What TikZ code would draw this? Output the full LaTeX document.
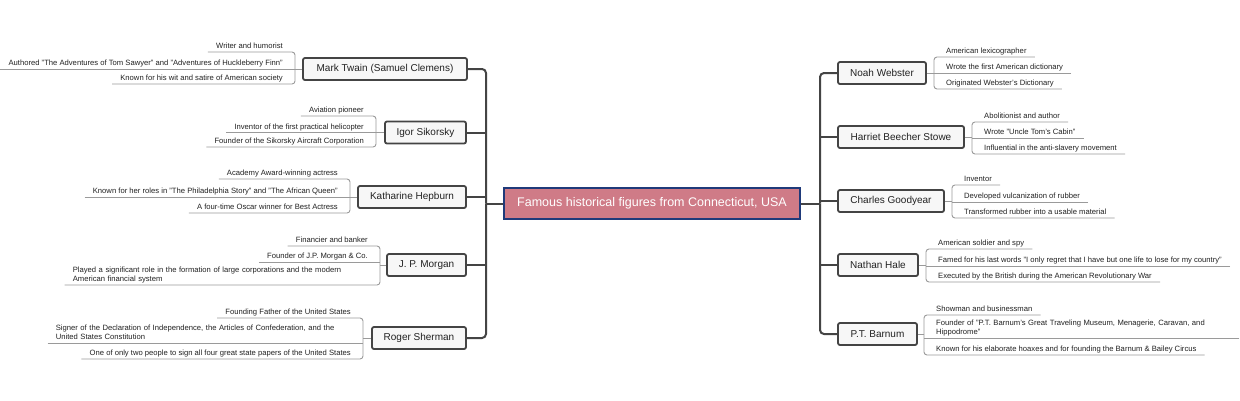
\documentclass[tikz,border=0pt]{standalone}
\usepackage{fontspec}
\setmainfont{Liberation Sans}
\definecolor{rootfill}{HTML}{CF7B87}
\definecolor{rootdraw}{HTML}{1F3A7A}
\definecolor{branchline}{HTML}{444444}
\definecolor{leafgray}{HTML}{9A9A9A}
\definecolor{nodefill}{HTML}{F7F7F7}
\definecolor{txt}{HTML}{222222}
\newcommand{\lastdepth}{\rule[-1.5pt]{0pt}{1pt}}
\tikzset{
  rootbox/.style={draw=rootdraw, line width=1.5pt, fill=rootfill, text=white,
    font=\fontsize{12.5}{15}\selectfont, minimum width=296pt, minimum height=31pt, inner sep=0pt},
  branchbox/.style={draw=branchline, line width=1.8pt, fill=nodefill, rounded corners=2pt,
    font=\fontsize{10}{12}\selectfont, minimum height=22pt, inner sep=0pt, text=txt},
  leafbase/.style={font=\fontsize{7.65}{9}\selectfont, inner xsep=8pt, inner ysep=1.5pt, text=txt},
  leafL/.style={leafbase, anchor=south east, text height=5.5pt, text depth=1.5pt},
  leafR/.style={leafbase, anchor=south west, text height=5.5pt, text depth=1.5pt},
  leafLtwo/.style={leafbase, anchor=south east, text width=295pt, align=left},
  leafRtwo/.style={leafbase, anchor=south west, text width=295pt, align=left},
  spine/.style={draw=branchline, line width=2pt, rounded corners=4pt},
  leafline/.style={draw=leafgray, line width=0.9pt, rounded corners=3pt}
}
\begin{document}
\begin{tikzpicture}[x=1pt,y=-1pt]
\useasboundingbox (0,0) rectangle (1240,400);
\fill[white] (0,0) rectangle (1240,400);

% root
\node[rootbox] (root) at (652,203.5) {Famous historical figures from Connecticut, USA};
\coordinate (sL) at (486,203.5);
\coordinate (sR) at (820,203.5);

% ---------- left branches ----------
\node[branchbox, minimum width=164pt] (twain) at (385,69) {Mark Twain (Samuel Clemens)};
\node[branchbox, minimum width=81pt] (sikorsky) at (425.5,132.5) {Igor Sikorsky};
\node[branchbox, minimum width=108pt] (hepburn) at (412,197) {Katharine Hepburn};
\node[branchbox, minimum width=79pt] (morgan) at (426.5,265) {J. P. Morgan};
\node[branchbox, minimum width=94pt] (sherman) at (419,338) {Roger Sherman};

% ---------- right branches ----------
\node[branchbox, minimum width=88pt] (webster) at (882,73) {Noah Webster};
\node[branchbox, minimum width=126pt] (stowe) at (901,137) {Harriet Beecher Stowe};
\node[branchbox, minimum width=106pt] (goodyear) at (891,201) {Charles Goodyear};
\node[branchbox, minimum width=80pt] (hale) at (878,265) {Nathan Hale};
\node[branchbox, minimum width=79pt] (barnum) at (877.5,334) {P.T. Barnum};

% spines
\draw[spine] (root.west) -- (sL);
\draw[spine] (sL) |- (twain.east);
\draw[spine] (sL) |- (sherman.east);
\draw[spine, sharp corners] (sikorsky.east) -- (sikorsky.east -| sL);
\draw[spine, sharp corners] (hepburn.east) -- (hepburn.east -| sL);
\draw[spine, sharp corners] (morgan.east) -- (morgan.east -| sL);

\draw[spine] (root.east) -- (sR);
\draw[spine] (sR) |- (webster.west);
\draw[spine] (sR) |- (barnum.west);
\draw[spine, sharp corners] (stowe.west) -- (stowe.west -| sR);
\draw[spine, sharp corners] (goodyear.west) -- (goodyear.west -| sR);
\draw[spine, sharp corners] (hale.west) -- (hale.west -| sR);

% ---------- Mark Twain leaves ----------
\coordinate (twB) at (295,69);
\node[leafL] (tw1) at (291,52) {Writer and humorist};
\node[leafL] (tw2) at (291,69) {Authored "The Adventures of Tom Sawyer" and "Adventures of Huckleberry Finn"};
\node[leafL] (tw3) at (291,84) {Known for his wit and satire of American society};
\draw[leafline] (tw1.south west) -- (tw1.south west -| twB) -- (tw3.south west -| twB) -- (tw3.south west);
\draw[leafline] (tw2.south west) -- (tw2.south west -| twB);
\draw[leafline] (twB) -- (twain.west);

% ---------- Igor Sikorsky leaves ----------
\coordinate (siB) at (376,132.5);
\node[leafL] (si1) at (372,116) {Aviation pioneer};
\node[leafL] (si2) at (372,132.5) {Inventor of the first practical helicopter};
\node[leafL] (si3) at (372,147) {Founder of the Sikorsky Aircraft Corporation};
\draw[leafline] (si1.south west) -- (si1.south west -| siB) -- (si3.south west -| siB) -- (si3.south west);
\draw[leafline] (si2.south west) -- (si2.south west -| siB);
\draw[leafline] (siB) -- (sikorsky.west);

% ---------- Katharine Hepburn leaves ----------
\coordinate (heB) at (350,197);
\node[leafL] (he1) at (346,179) {Academy Award-winning actress};
\node[leafL] (he2) at (346,197) {Known for her roles in "The Philadelphia Story" and "The African Queen"};
\node[leafL] (he3) at (346,213) {A four-time Oscar winner for Best Actress};
\draw[leafline] (he1.south west) -- (he1.south west -| heB) -- (he3.south west -| heB) -- (he3.south west);
\draw[leafline] (he2.south west) -- (he2.south west -| heB);
\draw[leafline] (heB) -- (hepburn.west);

% ---------- J. P. Morgan leaves ----------
\coordinate (moB) at (380,265);
\node[leafL] (mo1) at (376,246) {Financier and banker};
\node[leafL] (mo2) at (376,262) {Founder of J.P. Morgan \& Co.};
\node[leafLtwo] (mo3) at (376,285) {Played a significant role in the formation of large corporations and the modern\\American financial system\lastdepth};
\draw[leafline] (mo1.south west) -- (mo1.south west -| moB) -- (mo3.south west -| moB) -- (mo3.south west);
\draw[leafline] (mo2.south west) -- (mo2.south west -| moB);
\draw[leafline] (moB) -- (morgan.west);

% ---------- Roger Sherman leaves ----------
\coordinate (shB) at (363,338);
\node[leafL] (sh1) at (359,318) {Founding Father of the United States};
\node[leafLtwo] (sh2) at (359,343) {Signer of the Declaration of Independence, the Articles of Confederation, and the\\United States Constitution\lastdepth};
\node[leafL] (sh3) at (359,359) {One of only two people to sign all four great state papers of the United States};
\draw[leafline] (sh1.south west) -- (sh1.south west -| shB) -- (sh3.south west -| shB) -- (sh3.south west);
\draw[leafline] (sh2.south west) -- (sh2.south west -| shB);
\draw[leafline] (shB) -- (sherman.west);

% ---------- Noah Webster leaves ----------
\coordinate (weB) at (934,73);
\node[leafR] (we1) at (938,57) {American lexicographer};
\node[leafR] (we2) at (938,73) {Wrote the first American dictionary};
\node[leafR] (we3) at (938,89) {Originated Webster's Dictionary};
\draw[leafline] (we1.south east) -- (we1.south east -| weB) -- (we3.south east -| weB) -- (we3.south east);
\draw[leafline] (we2.south east) -- (we2.south east -| weB);
\draw[leafline] (weB) -- (webster.east);

% ---------- Harriet Beecher Stowe leaves ----------
\coordinate (stB) at (972,137);
\node[leafR] (st1) at (976,122) {Abolitionist and author};
\node[leafR] (st2) at (976,138) {Wrote "Uncle Tom's Cabin"};
\node[leafR] (st3) at (976,154) {Influential in the anti-slavery movement};
\draw[leafline] (st1.south east) -- (st1.south east -| stB) -- (st3.south east -| stB) -- (st3.south east);
\draw[leafline] (st2.south east) -- (st2.south east -| stB);
\draw[leafline] (stB) -- (stowe.east);

% ---------- Charles Goodyear leaves ----------
\coordinate (goB) at (952,201);
\node[leafR] (go1) at (956,185) {Inventor};
\node[leafR] (go2) at (956,202) {Developed vulcanization of rubber};
\node[leafR] (go3) at (956,218) {Transformed rubber into a usable material};
\draw[leafline] (go1.south east) -- (go1.south east -| goB) -- (go3.south east -| goB) -- (go3.south east);
\draw[leafline] (go2.south east) -- (go2.south east -| goB);
\draw[leafline] (goB) -- (goodyear.east);

% ---------- Nathan Hale leaves ----------
\coordinate (haB) at (926,265);
\node[leafR] (ha1) at (930,249) {American soldier and spy};
\node[leafR] (ha2) at (930,266) {Famed for his last words "I only regret that I have but one life to lose for my country"};
\node[leafR] (ha3) at (930,282) {Executed by the British during the American Revolutionary War};
\draw[leafline] (ha1.south east) -- (ha1.south east -| haB) -- (ha3.south east -| haB) -- (ha3.south east);
\draw[leafline] (ha2.south east) -- (ha2.south east -| haB);
\draw[leafline] (haB) -- (hale.east);

% ---------- P.T. Barnum leaves ----------
\coordinate (baB) at (924,334);
\node[leafR] (ba1) at (928,315) {Showman and businessman};
\node[leafRtwo] (ba2) at (928,338) {Founder of "P.T. Barnum's Great Traveling Museum, Menagerie, Caravan, and\\Hippodrome"\lastdepth};
\node[leafR] (ba3) at (928,355) {Known for his elaborate hoaxes and for founding the Barnum \& Bailey Circus};
\draw[leafline] (ba1.south east) -- (ba1.south east -| baB) -- (ba3.south east -| baB) -- (ba3.south east);
\draw[leafline] (ba2.south east) -- (ba2.south east -| baB);
\draw[leafline] (baB) -- (barnum.east);
\end{tikzpicture}
\end{document}
